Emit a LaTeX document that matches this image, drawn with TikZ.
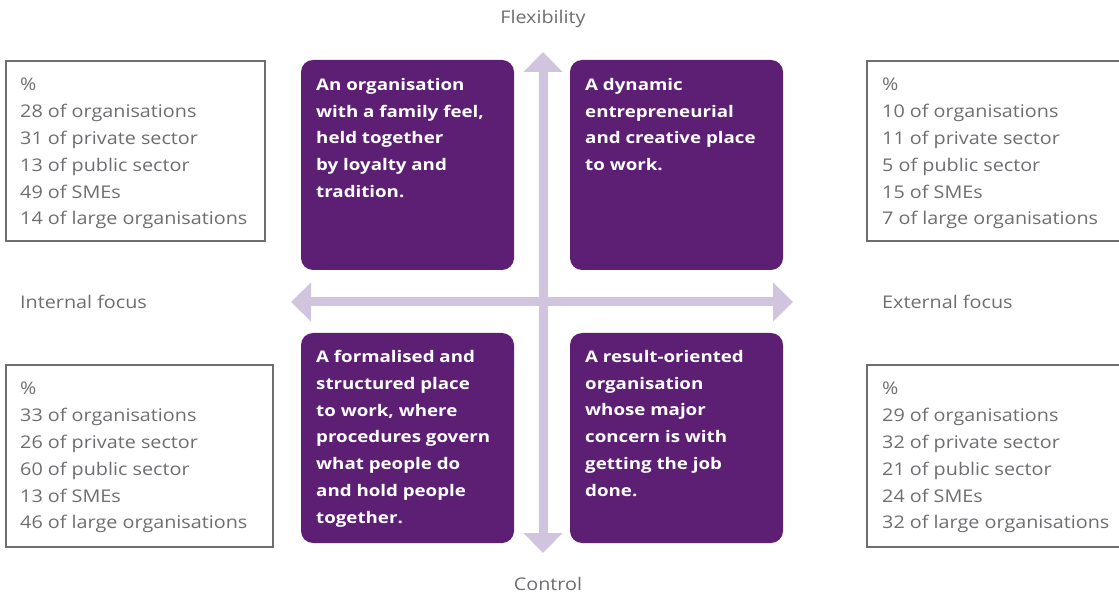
\documentclass[tikz,border=0pt]{standalone}
\usepackage{fontspec}
\setmainfont[FakeStretch=1.13]{Open Sans}
\newfontfamily\grasfont[FakeStretch=1.17]{Open Sans}
\usetikzlibrary{arrows.meta}

\definecolor{prune}{HTML}{5C1F74}
\definecolor{lavande}{HTML}{D0C4DE}
\definecolor{gristexte}{HTML}{6D6E71}

\tikzset{
  case/.style={fill=prune, draw=none, rounded corners=12pt},
  casetexte/.style={anchor=north west, inner sep=0pt, align=left, text=white,
    font=\grasfont\fontsize{16}{26.8}\selectfont\bfseries},
  cadre/.style={draw=gristexte, line width=1.2pt},
  chiffres/.style={anchor=north west, inner sep=0pt, align=left, text=gristexte,
    font=\fontsize{17.5}{26.8}\selectfont},
  axe/.style={lavande, line width=9pt, {Triangle[width=38pt,length=20pt]}-{Triangle[width=38pt,length=20pt]}},
  etiquette/.style={text=gristexte, font=\fontsize{17.5}{20}\selectfont, inner sep=0pt}
}

\begin{document}
\begin{tikzpicture}[x=1pt,y=-1pt]
\clip (0,0) rectangle (1119,593);

% Axes
\coordinate (haut) at (543,52);
\coordinate (bas) at (543,553);
\coordinate (gauche) at (291,302);
\coordinate (droite) at (793,302);
\draw[axe] (haut) -- (bas);
\draw[axe] (gauche) -- (droite);

% Etiquettes des axes
\node[etiquette] (flex) at (543,19) {Flexibility};
\node[etiquette] (ctrl) at (548,584) {Control};
\node[etiquette, anchor=west] (interne) at (20,302) {Internal focus};
\node[etiquette, anchor=west] (externe) at (882,302) {External focus};

% Cases violettes
\draw[case] (301,60) rectangle (514,270);
\draw[case] (570,60) rectangle (783,270);
\draw[case] (301,333) rectangle (514,543);
\draw[case] (570,333) rectangle (783,543);

\node[casetexte] (clan) at (316,78) {An organisation\\with a family feel,\\held together\\by loyalty and\\tradition.};
\node[casetexte] (adhoc) at (585,78) {A dynamic\\entrepreneurial\\and creative place\\to work.};
\node[casetexte] (hier) at (316,350) {A formalised and\\structured place\\to work, where\\procedures govern\\what people do\\and hold people\\together.};
\node[casetexte] (marche) at (585,350) {A result-oriented\\organisation\\whose major\\concern is with\\getting the job\\done.};

% Cadres de chiffres
\draw[cadre] (6,61) rectangle (265,241);
\draw[cadre] (867,61) rectangle (1130,241);
\draw[cadre] (6,365) rectangle (273,547);
\draw[cadre] (867,365) rectangle (1130,547);

\node[chiffres] (chclan) at (20,78) {\%\\28 of organisations\\31 of private sector\\13 of public sector\\49 of SMEs\\14 of large organisations};
\node[chiffres] (chadhoc) at (882,78) {\%\\10 of organisations\\11 of private sector\\5 of public sector\\15 of SMEs\\7 of large organisations};
\node[chiffres] (chhier) at (20,382) {\%\\33 of organisations\\26 of private sector\\60 of public sector\\13 of SMEs\\46 of large organisations};
\node[chiffres] (chmarche) at (882,382) {\%\\29 of organisations\\32 of private sector\\21 of public sector\\24 of SMEs\\32 of large organisations};

\end{tikzpicture}
\end{document}
